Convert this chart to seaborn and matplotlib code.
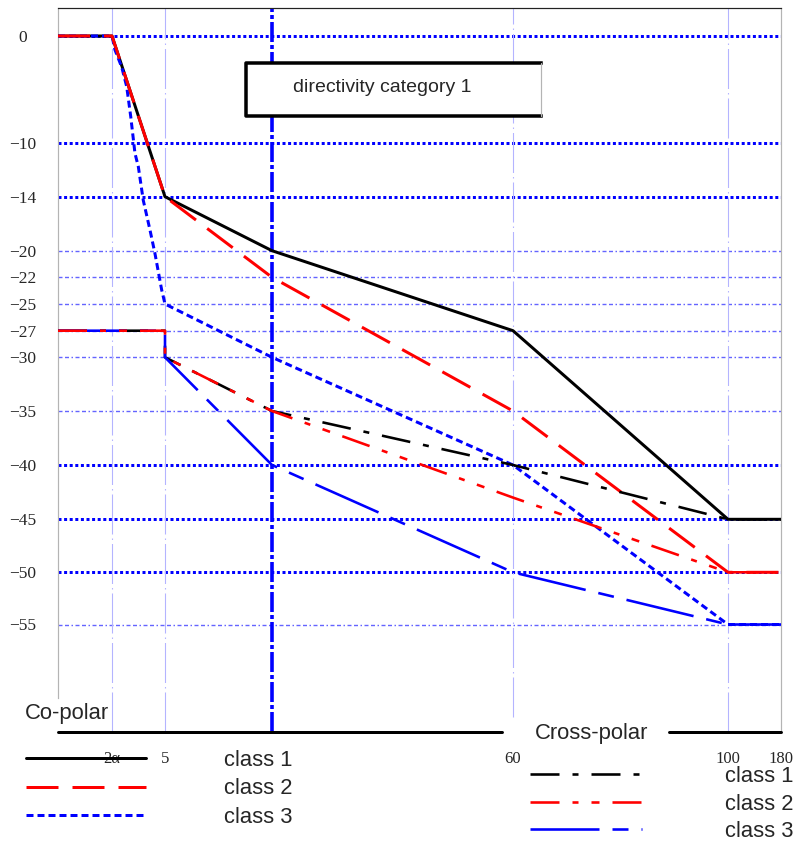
import numpy as np
import matplotlib
matplotlib.use("Agg")
import matplotlib.pyplot as plt
from matplotlib.patches import Rectangle
import seaborn as sns

# ---------------------------------------------------------------------------
# Radiation pattern envelope data (angle in degrees, relative gain in dB)
# ---------------------------------------------------------------------------
copolar_angle = [0, 2, 5, 20, 60, 100, 180]
copolar_class1 = [0, 0, -14, -20, -27, -45, -45]
copolar_class2 = [0, 0, -14, -22, -35, -50, -50]

copolar_class3_angle = [0, 2, 2.17, 2.55, 2.83, 3.06, 3.30, 3.49, 3.77, 4.15,
                        4.43, 4.68, 4.81, 5, 20, 60, 100, 180]
copolar_class3 = [0, 0, -1.3, -2.9, -4.7, -7.5, -10.75, -11.75, -14.4, -17.7,
                  -20.2, -22.0, -23.4, -25, -30, -40, -55, -55]

crosspolar_angle = [0, 5, 5, 20, 60, 100, 180]
crosspolar_class1 = [-27, -27, -30, -35, -40, -45, -45]
crosspolar_class2 = [-27, -27, -30, -35, -43, -50, -50]
crosspolar_class3 = [-27, -27, -30, -40, -50, -55, -55]

class_labels = ["class 1", "class 2", "class 3"]

x_ticks = [2, 5, 60, 100, 180]
x_tick_labels = ["2α", "5", "60", "100", "180"]
y_ticks = [0, -10, -14, -20, -22, -25, -27, -30, -35, -40, -45, -50, -55]
y_tick_labels = ["0", "−10", "−14", "−20", "−22", "−25", "−27", "−30",
                 "−35", "−40", "−45", "−50", "−55"]
major_levels = [0, -10, -14, -40, -45, -50]
minor_levels = [-20, -22, -25, -27, -30, -35, -55]
angle_marks = [2, 5, 60, 100]
reference_angle = 20

# ---------------------------------------------------------------------------
# Layout helpers (figure is 806 x 844 px at 100 dpi)
# ---------------------------------------------------------------------------
W, H, DPI = 806, 844, 100
PT = 72.0 / DPI          # points per pixel


def pt(v):
    return v * PT


# piecewise axis scales (break-point value -> pixel position on the page)
X_ANCHOR_VAL = np.array([-20, 0, 2, 5, 20, 60, 100, 180, 400], dtype=float)
X_ANCHOR_POS = np.array([-482, 58, 112, 165, 272, 513, 728, 781, 926], dtype=float)
Y_ANCHOR_VAL = np.array([-100, -55, -50, -45, -40, -35, -30, -27, -25, -22,
                         -20, -14, -10, 0, 20], dtype=float)
Y_ANCHOR_POS = np.array([1107.3, 624.5, 572.3, 519.3, 465, 411, 357.3, 330.7,
                         304, 277.3, 250.7, 196.7, 143.3, 36, -178.6])


def x_fwd(v):
    return np.interp(v, X_ANCHOR_VAL, X_ANCHOR_POS)


def x_inv(p):
    return np.interp(p, X_ANCHOR_POS, X_ANCHOR_VAL)


def y_fwd(v):
    return np.interp(v, Y_ANCHOR_VAL, -Y_ANCHOR_POS)


def y_inv(p):
    return np.interp(p, -Y_ANCHOR_POS, Y_ANCHOR_VAL)


sns.set_style("white")
plt.rcParams["font.family"] = ["Liberation Sans", "DejaVu Sans"]
plt.rcParams["lines.scale_dashes"] = False

fig = plt.figure(figsize=(W / DPI, H / DPI), dpi=DPI)
AX_L, AX_R, AX_T, AX_B = 58, 781, 8, 732
ax = fig.add_axes([AX_L / W, (H - AX_B) / H, (AX_R - AX_L) / W, (AX_B - AX_T) / H])

# ---------------------------------------------------------------------------
# Envelope curves
# ---------------------------------------------------------------------------
line_kw = dict(ax=ax, sort=False, estimator=None, errorbar=None, legend=False, zorder=3)

co_style = [
    dict(color="black", linestyle="-"),
    dict(color="red", linestyle=(0, (pt(32), pt(14)))),
    dict(color="blue", linestyle=(0, (pt(7), pt(4)))),
]
cross_style = [
    dict(color="black", linestyle=(0, (pt(29), pt(13), pt(6), pt(13)))),
    dict(color="red", linestyle=(0, (pt(29), pt(13), pt(6), pt(13), pt(8), pt(13)))),
    dict(color="blue", linestyle=(0, (pt(69), pt(13), pt(16), pt(13)))),
]

co_series = [
    (copolar_angle, copolar_class1),
    (copolar_class3_angle, copolar_class3),
    (copolar_angle, copolar_class2),
]
draw_order = [0, 2, 1]
co_handles = [None] * 3
for (xs, ys), i in zip(co_series, draw_order):
    sns.lineplot(x=xs, y=ys, linewidth=pt(3), label=class_labels[i],
                 **co_style[i], **line_kw)
    co_handles[i] = ax.lines[-1]

cross_series = [
    (crosspolar_angle, crosspolar_class1),
    (crosspolar_angle, crosspolar_class3),
    (crosspolar_angle, crosspolar_class2),
]
cross_handles = [None] * 3
for (xs, ys), i in zip(cross_series, draw_order):
    sns.lineplot(x=xs, y=ys, linewidth=pt(2.6), label=class_labels[i],
                 **cross_style[i], **line_kw)
    cross_handles[i] = ax.lines[-1]

# ---------------------------------------------------------------------------
# Scales, limits, ticks
# ---------------------------------------------------------------------------
ax.set_xscale("function", functions=(x_fwd, x_inv))
ax.set_yscale("function", functions=(y_fwd, y_inv))
ax.set_xlim(0, 180)
y_bottom = float(y_inv(-AX_B))
y_top = float(y_inv(-AX_T))
ax.set_ylim(y_bottom, y_top)

ax.set_xticks(x_ticks, x_tick_labels, family=["Liberation Serif", "DejaVu Serif"],
              fontsize=12)
ax.set_yticks(y_ticks, y_tick_labels, family=["Liberation Serif", "DejaVu Serif"],
              fontsize=12.5, ha="center")
ax.minorticks_off()
ax.tick_params(axis="x", length=0, pad=pt(19))
ax.tick_params(axis="y", length=0, pad=pt(35))
ax.set_xlabel("")
ax.set_ylabel("")

# grid: heavy dotted levels and light dash-dot levels
for lv in major_levels:
    ax.axhline(lv, color="blue", lw=pt(3), linestyle=(0, (pt(3), pt(2.6))), zorder=1)
for lv in minor_levels:
    ax.axhline(lv, color="#6464ff", lw=pt(1.4),
               linestyle=(0, (pt(4), pt(2.5), pt(4), pt(2.5), pt(1.5), pt(2.5))), zorder=1)
for a in angle_marks:
    ymin = (AX_B - 717) / (AX_B - AX_T) if a == 60 else 0
    ax.axvline(a, ymin=ymin, color="#b4b4ff", lw=pt(1.1),
               linestyle=(0, (pt(40), pt(4), pt(1.5), pt(4))), zorder=1)
ax.axvline(reference_angle, color="blue", lw=pt(3.6),
           linestyle=(0, (pt(20), pt(3), pt(4), pt(3))), zorder=2)

# frame
for side in ["left", "right"]:
    ax.spines[side].set_color("#b4b4b4")
    ax.spines[side].set_linewidth(pt(1.2))
ax.spines["top"].set_color("#222222")
ax.spines["top"].set_linewidth(pt(1.2))
ax.spines["bottom"].set_visible(False)
ax.spines["left"].set_bounds(float(y_inv(-698)), y_top)

gap_l = (502 - AX_L) / (AX_R - AX_L)
gap_r = (669 - AX_L) / (AX_R - AX_L)
ax.axhline(y_bottom, xmin=0, xmax=gap_l, color="black", lw=pt(3), clip_on=False, zorder=4)
ax.axhline(y_bottom, xmin=gap_r, xmax=1, color="black", lw=pt(3), clip_on=False, zorder=4)

# title box
bx0 = (246 - AX_L) / (AX_R - AX_L)
bx1 = (541 - AX_L) / (AX_R - AX_L)
by0 = (AX_B - 116) / (AX_B - AX_T)
by1 = (AX_B - 63) / (AX_B - AX_T)
ax.add_patch(Rectangle((bx0, by0), bx1 - bx0, by1 - by0, transform=ax.transAxes,
                       facecolor="white", edgecolor="none", zorder=6))
ax.plot([bx1, bx0, bx0, bx1], [by1, by1, by0, by0], transform=ax.transAxes,
        color="black", lw=pt(3.5), solid_capstyle="projecting", zorder=7)
ax.plot([bx1, bx1], [by0, by1], transform=ax.transAxes, color="#b4b4b4",
        lw=pt(1.2), zorder=7)
ax.text((382.5 - AX_L) / (AX_R - AX_L), (AX_B - 87) / (AX_B - AX_T),
        "directivity category 1", transform=ax.transAxes, ha="center",
        va="center", fontsize=14, zorder=8)

# section captions
fig.text(25 / W, 1 - 713 / H, "Co-polar", ha="left", va="center", fontsize=15.8)
fig.text(592 / W, 1 - 734 / H, "Cross-polar", ha="center", va="center", fontsize=15.8)

# legends
leg_kw = dict(frameon=False, fontsize=15.8, borderpad=0, borderaxespad=0,
              loc="upper left", bbox_transform=fig.transFigure)
leg_co = ax.legend(co_handles, class_labels, handlelength=120 / 22,
                   handletextpad=79 / 22, labelspacing=0.34,
                   bbox_to_anchor=(26 / W, 1 - 750 / H), **leg_kw)
ax.add_artist(leg_co)
ax.legend(cross_handles, class_labels, handlelength=112 / 22,
          handletextpad=83 / 22, labelspacing=0.3,
          bbox_to_anchor=(530 / W, 1 - 766 / H), **leg_kw)

fig.savefig("out.png", dpi=DPI)
